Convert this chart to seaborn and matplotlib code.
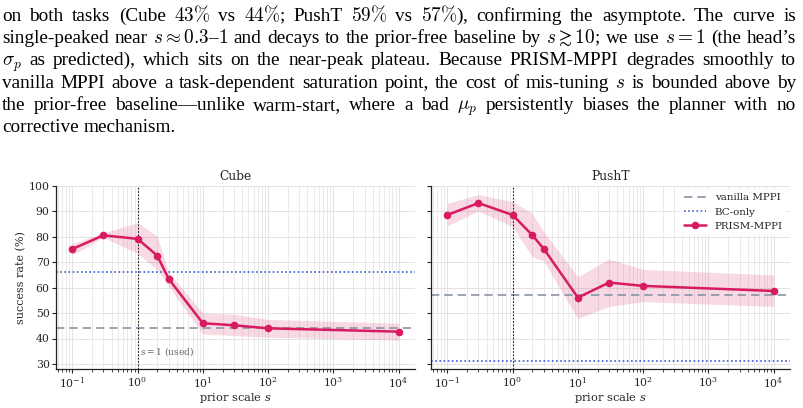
import matplotlib
matplotlib.use("Agg")
import matplotlib.pyplot as plt
import seaborn as sns
import numpy as np

# ---------------- data ----------------
scales = [0.1, 0.3, 1, 2, 3, 10, 30, 100, 10000]

cube_mean = [75.2, 80.6, 79.2, 72.6, 63.4, 46.0, 45.2, 44.0, 42.7]
cube_lo = [72.9, 79.7, 73.5, 67.0, 60.5, 41.8, 41.2, 40.5, 39.4]
cube_hi = [77.3, 81.6, 85.5, 80.3, 66.0, 50.0, 49.5, 47.5, 46.0]
cube_vanilla = 44.0
cube_bc = 66.0

pusht_mean = [88.6, 93.3, 88.6, 80.7, 75.3, 56.1, 62.0, 60.7, 58.7]
pusht_lo = [84.3, 90.2, 84.0, 72.2, 70.5, 47.8, 52.6, 54.5, 52.6]
pusht_hi = [93.2, 96.6, 93.8, 89.3, 82.0, 64.3, 71.3, 67.2, 65.0]
pusht_vanilla = 57.0
pusht_bc = 31.0

panel_titles = ["Cube", "PushT"]
yticks = [30, 40, 50, 60, 70, 80, 90, 100]

para_lines = [
    r"on both tasks (Cube $43\%$ vs $44\%$; PushT $59\%$ vs $57\%$), confirming the asymptote.  The curve is",
    r"single-peaked near $s\approx0.3$–$1$ and decays to the prior-free baseline by $s\gtrsim10$; we use $s{=}1$ (the head’s",
    r"$\sigma_p$ as predicted), which sits on the near-peak plateau. Because PRISM-MPPI degrades smoothly to",
    r"vanilla MPPI above a task-dependent saturation point, the cost of mis-tuning $s$ is bounded above by",
    r"the prior-free baseline—unlike warm-start, where a bad $\mu_p$ persistently biases the planner with no",
    r"corrective mechanism.",
]

# ---------------- style ----------------
sns.set_theme(style="ticks")
plt.rcParams["font.family"] = ["DejaVu Serif"]
plt.rcParams["mathtext.fontset"] = "dejavuserif"

PINK = "#d81b60"
BLUE = "#3b5bdb"
GRAY = "#8a94a6"

W, H = 804, 408
fig = plt.figure(figsize=(W / 100, H / 100), dpi=100)

axL = fig.add_axes([56 / W, 39 / H, 359 / W, 183 / H])
axR = fig.add_axes([431 / W, 39 / H, 359 / W, 183 / H], sharey=axL)

datasets = [
    (axL, cube_mean, cube_lo, cube_hi, cube_vanilla, cube_bc),
    (axR, pusht_mean, pusht_lo, pusht_hi, pusht_vanilla, pusht_bc),
]

for i, (ax, mean, lo, hi, van, bc) in enumerate(datasets):
    ax.set_xscale("log")
    ax.axhline(van, color=GRAY, ls=(0, (5, 3)), lw=1.2, label="vanilla MPPI", zorder=2)
    ax.axhline(bc, color=BLUE, ls=(0, (1, 1.5)), lw=1.2, label="BC-only", zorder=2)
    ax.fill_between(scales, lo, hi, color=PINK, alpha=0.16, lw=0, zorder=1)
    sns.lineplot(x=scales, y=mean, ax=ax, color=PINK, marker="o", markersize=5.5,
                 markeredgewidth=0, lw=1.8, label="PRISM-MPPI", legend=False, zorder=3)
    ax.axvline(1, color="#222222", ls=(0, (1.5, 1.5)), lw=0.8, zorder=2)
    ax.set_ylim(28, 100)
    ax.set_yticks(yticks)
    ax.set_title(panel_titles[i], fontsize=8.8, pad=4)
    ax.set_xlabel("prior scale $s$", fontsize=8.2, labelpad=1)
    ax.grid(True, which="major", color="#e3e3e3", lw=0.7, zorder=0)
    ax.grid(True, which="minor", axis="x", color="#e6e6e6", lw=0.6, zorder=0)
    ax.set_axisbelow(True)
    ax.tick_params(axis="both", which="major", labelsize=7.8, length=3, width=0.8, pad=1.5)
    ax.tick_params(axis="x", which="minor", length=2, width=0.6)
    for s in ["top", "right"]:
        ax.spines[s].set_visible(False)
    for s in ["left", "bottom"]:
        ax.spines[s].set_color("#222222")
        ax.spines[s].set_linewidth(0.9)

axL.set_ylabel("success rate (%)", fontsize=8, labelpad=2)
axL.text(1.1, 34.8, "$s=1$ (used)", fontsize=6.5, color="#666666", va="center", ha="left")
plt.setp(axR.get_yticklabels(), visible=False)

handles, labels = axR.get_legend_handles_labels()
leg = axR.legend(handles, labels, loc="upper right", fontsize=7.4, frameon=True,
                 framealpha=1.0, edgecolor="none", facecolor="white",
                 handlelength=2.2, borderaxespad=0.3, labelspacing=0.5)

# ---------------- paragraph (justified) ----------------
renderer = fig.canvas.get_renderer()
L, R = 2.0, 796.0
baselines = [21, 43.2, 65.4, 87.6, 109.8, 132.0]
fs = 13.9
for li, line in enumerate(para_lines):
    words = [w for w in line.split(" ") if w]
    y = 1 - baselines[li] / H
    texts = [fig.text(0, y, w, fontsize=fs, family=["Liberation Serif"],
                      math_fontfamily="cm", va="baseline", ha="left", color="black")
             for w in words]
    widths = [t.get_window_extent(renderer).width for t in texts]
    if li < len(para_lines) - 1 and len(words) > 1:
        gap = (R - L - sum(widths)) / (len(words) - 1)
    else:
        gap = fs * 100 / 72 * 0.25
    x = L
    for t, w in zip(texts, widths):
        t.set_x(x / W)
        x += w + gap

fig.savefig("out.png", dpi=100)
